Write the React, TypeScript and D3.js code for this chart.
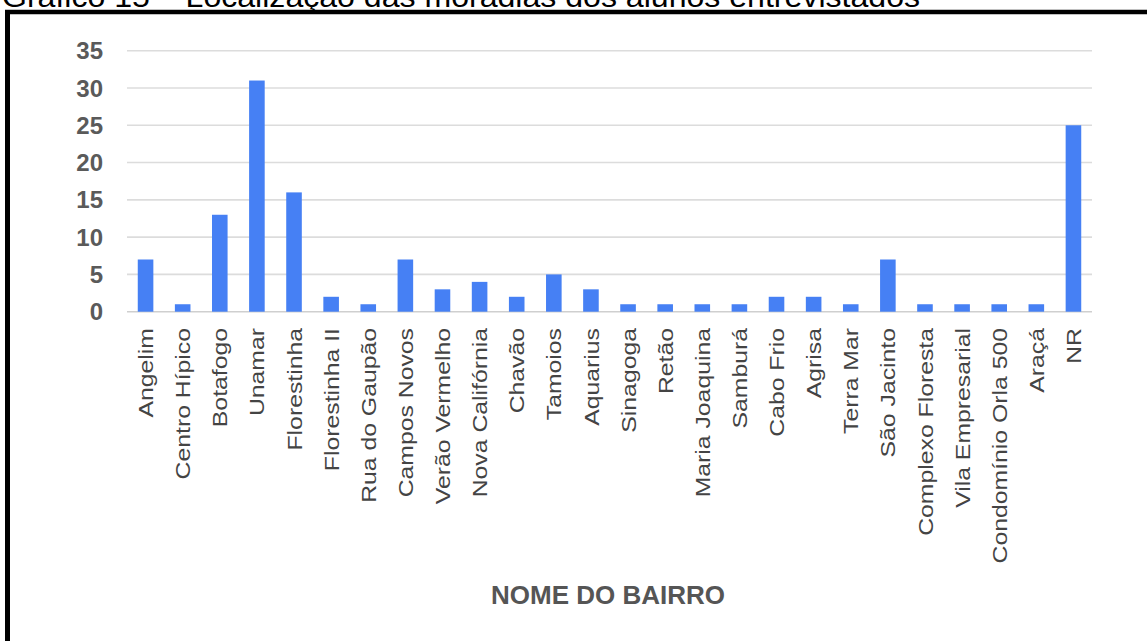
import React from 'react'
import { scaleBand, scaleLinear } from 'd3'

const bairros = [
  'Angelim', 'Centro Hípico', 'Botafogo', 'Unamar', 'Florestinha', 'Florestinha II',
  'Rua do Gaupão', 'Campos Novos', 'Verão Vermelho', 'Nova Califórnia', 'Chavão',
  'Tamoios', 'Aquarius', 'Sinagoga', 'Retão', 'Maria Joaquina', 'Samburá', 'Cabo Frio',
  'Agrisa', 'Terra Mar', 'São Jacinto', 'Complexo Floresta', 'Vila Empresarial',
  'Condomínio Orla 500', 'Araçá', 'NR',
]
const alunos = [7, 1, 13, 31, 16, 2, 1, 7, 3, 4, 2, 5, 3, 1, 1, 1, 1, 2, 2, 1, 7, 1, 1, 1, 1, 25]
const yTicks = [0, 5, 10, 15, 20, 25, 30, 35]

const titulo = 'Gráfico 15 – Localização das moradias dos alunos entrevistados'
const eixoX = 'NOME DO BAIRRO'

const W = 1147
const H = 641
const font = '"Liberation Sans", Arial, sans-serif'

const App = () => {
  const x = scaleBand<string>()
    .domain(bairros)
    .range([127, 1092])
    .paddingInner(0.58)
    .paddingOuter(0.29)
  const y = scaleLinear().domain([0, 35]).range([311.7, 50.7])

  return (
    <svg width={W} height={H} style={{ position: 'absolute', left: 0, top: 0, background: '#fff' }}>
      {/* title, cut at the top edge like the scan */}
      <text x={2} y={7} fontFamily={font} fontSize={30} textLength={918}
        lengthAdjust="spacingAndGlyphs" fill="#000">{titulo}</text>

      {/* frame */}
      <line x1={5} x2={W} y1={12} y2={12} stroke="#000" strokeWidth={4.5} />
      <line x1={7.5} x2={7.5} y1={10} y2={H} stroke="#000" strokeWidth={5} />

      {/* grid */}
      {yTicks.map(t => (
        <g key={t}>
          <line x1={127} x2={1092} y1={y(t)} y2={y(t)}
            stroke={t === 0 ? '#cfcfcf' : '#dcdcdc'} strokeWidth={1.6} />
          <text x={103} y={y(t)} dy="0.36em" textAnchor="end" fontFamily={font}
            fontWeight="bold" fontSize={24} fill="#5a5a5a">{t}</text>
        </g>
      ))}

      {/* bars */}
      {bairros.map((b, i) => (
        <rect key={b} x={x(b)} y={y(alunos[i])} width={x.bandwidth()}
          height={y(0) - y(alunos[i])} fill="#4680f4" />
      ))}

      {/* category labels */}
      {bairros.map(b => (
        <text key={b} transform={`translate(${x(b)! + x.bandwidth() / 2},328) scale(1,1.18) rotate(-90)`}
          dy="0.36em" textAnchor="end" fontFamily={font} fontSize={21} fill="#444">{b}</text>
      ))}

      <text x={608} y={604} textAnchor="middle" fontFamily={font} fontWeight="bold"
        fontSize={26} fill="#555">{eixoX}</text>
    </svg>
  )
}

export default App
